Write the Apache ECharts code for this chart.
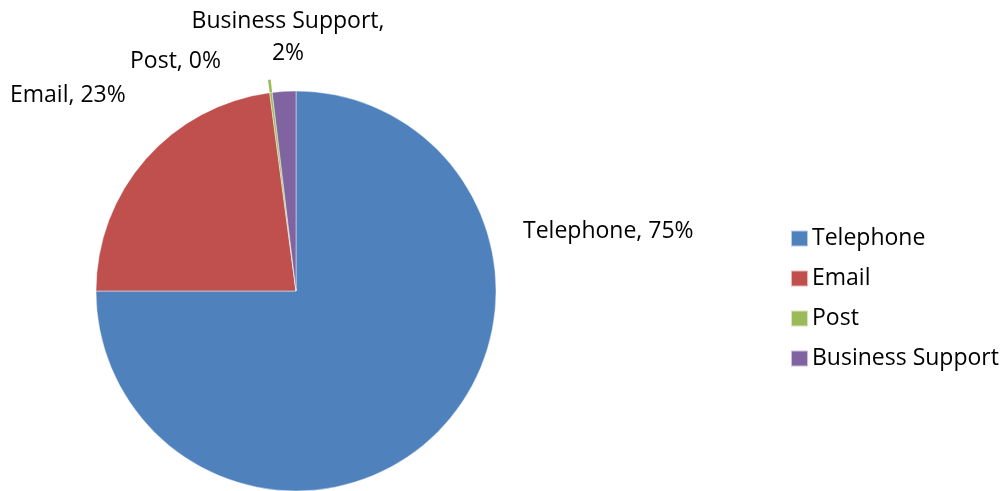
<!DOCTYPE html>
<html>
<head>
<meta charset="utf-8">
<script src="https://cdn.jsdelivr.net/npm/echarts@6/dist/echarts.min.js"></script>
<style>
  html, body { margin: 0; padding: 0; background: #fff; }
  #chart { width: 1006px; height: 491px; }
</style>
</head>
<body>
<div id="chart"></div>
<script>
// Enquiries by channel (share of total, %)
const categories = ['Telephone', 'Email', 'Post', 'Business Support'];
const shares = [75.0, 22.9, 0.2, 1.9];
const colors = ['#4F81BD', '#C0504D', '#9BBB59', '#8064A2'];

const FONT = '"Open Sans", "Noto Sans", sans-serif';
const FONT_SIZE = 23;

const pieData = categories.map((name, i) => ({
  name: name,
  value: shares[i],
  itemStyle: { color: colors[i] }
}));

// Outer sliver: only the Post slice shows, poking out past the rim
const rimData = categories.map((name, i) => ({
  name: name,
  value: shares[i],
  itemStyle: { color: name === 'Post' ? colors[i] : 'rgba(0,0,0,0)' }
}));

// Label anchors for each slice
const labelSpots = [
  { x: 523, y: 231, align: 'left' },
  { x: 10, y: 95, align: 'left' },
  { x: 130, y: 61, align: 'left' },
  { x: 288, y: 37, align: 'center' }
];

const chart = echarts.init(document.getElementById('chart'));
chart.setOption({
  animation: false,
  backgroundColor: '#ffffff',
  legend: {
    orient: 'vertical',
    left: 785,
    top: 222,
    data: categories,
    itemWidth: 17,
    itemHeight: 16,
    itemGap: 17,
    icon: 'rect',
    selectedMode: false,
    textStyle: { fontFamily: FONT, fontSize: FONT_SIZE, color: '#000', lineHeight: 20, padding: [0, 0, 0, -1] }
  },
  series: [
    {
      type: 'pie',
      center: [296, 291],
      radius: [0, 200],
      startAngle: 90,
      clockwise: true,
      avoidLabelOverlap: false,
      silent: true,
      z: 2,
      itemStyle: { borderColor: 'rgba(255,255,255,0.6)', borderWidth: 0.75 },
      label: {
        show: true,
        position: 'outside',
        fontFamily: FONT,
        fontSize: FONT_SIZE,
        color: '#000',
        lineHeight: 32,
        formatter: function (p) {
          const pct = Math.round(p.percent) + '%';
          return p.name.length > 10 ? p.name + ',\n' + pct : p.name + ', ' + pct;
        }
      },
      labelLine: { show: false },
      labelLayout: function (params) {
        const s = labelSpots[params.dataIndex];
        return { x: s.x, y: s.y, align: s.align, verticalAlign: 'middle' };
      },
      data: pieData
    },
    {
      type: 'pie',
      center: [296, 291],
      radius: [0, 213],
      startAngle: 90,
      silent: true,
      z: 1,
      label: { show: false },
      labelLine: { show: false },
      itemStyle: { borderWidth: 0 },
      data: rimData
    }
  ]
});
</script>
</body>
</html>
